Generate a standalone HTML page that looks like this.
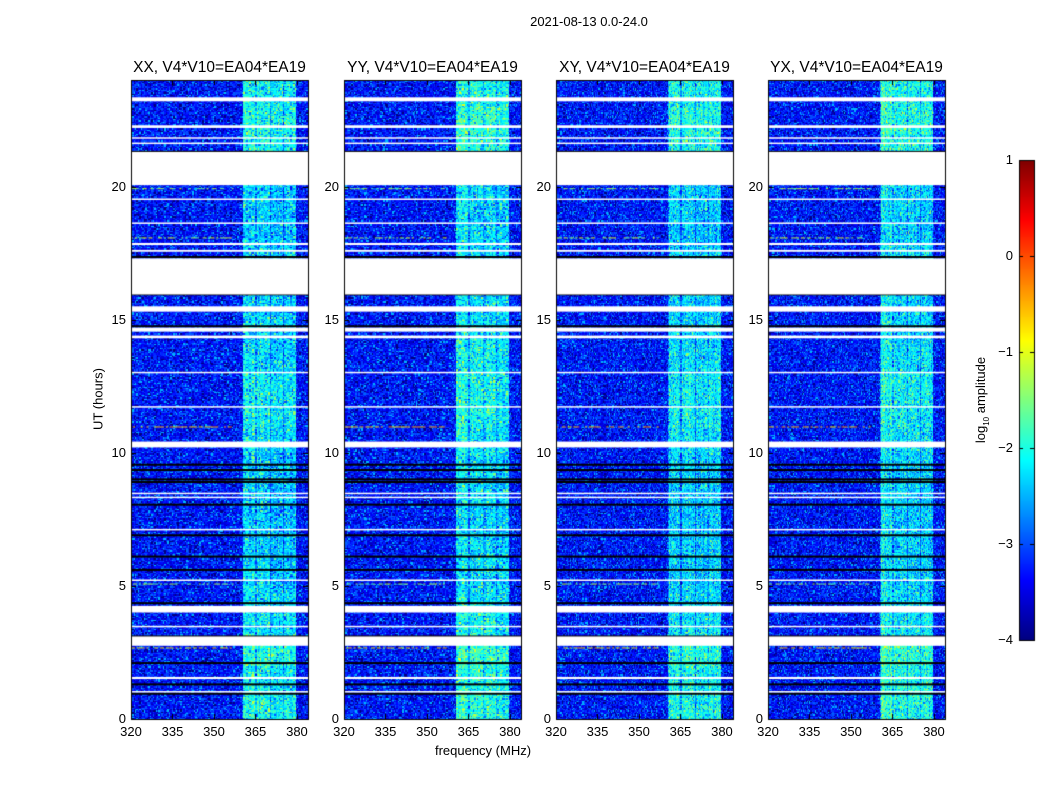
<!DOCTYPE html>
<html><head><meta charset="utf-8">
<style>
body{margin:0;background:#fff;font-family:"Liberation Sans",sans-serif;}
#root{position:relative;width:1050px;height:800px;overflow:hidden;background:#fff}
canvas{position:absolute;left:0;top:0}
.t{position:absolute;font-size:13px;color:#000;white-space:nowrap}
</style></head><body>
<div id="root">
<canvas id="cv" width="1050" height="800"></canvas>
<div id="labels"></div>
</div>
<script>
// ---- data ----
const panelTitles = ["XX, V4*V10=EA04*EA19","YY, V4*V10=EA04*EA19","XY, V4*V10=EA04*EA19","YX, V4*V10=EA04*EA19"];
const xTicks = [320,335,350,365,380];
const yTicks = [0,5,10,15,20];
const cbTicks = [1,0,-1,-2,-3,-4];
// bright RFI sub-bands: centre (MHz), log10 level, width (MHz)
const bandCenters = [363.0,367.9,372.8,377.6];
const bandLevels = [-2.3,-2.35,-2.4,-2.4];
const bandWidths = [4.6,4.4,4.4,4.2];
const gapLevel = -2.9;
const bandStart = 360.5, bandEnd = 379.8;
const backgroundLevel = -3.3;
// per-hour boost of band level (hours 0..23)
const hourBoost = [0.3,0.25,0.4,0.15,0.05,0.0,0.0,-0.05,0,0,0.1,0.2,0.2,0.1,0.05,0,0,0,-0.05,0,0,0.3,0.35,0.25];
// per-panel offsets
const panelBoost = [0,0.1,0.03,0.08];
// flagged (white) time ranges, hours
const whiteRanges = [[20.05,21.3],[16.0,17.3],[15.3,15.5],[14.55,14.7],[14.3,14.4],[10.2,10.42],[4.0,4.25],[2.75,3.1],[23.2,23.35],[22.2,22.3],[21.6,21.65],[21.8,21.85],[19.5,19.55],[18.6,18.65],[17.8,17.88],[17.55,17.62],[13.0,13.04],[11.7,11.75],[8.45,8.5],[8.3,8.35],[7.1,7.14],[5.2,5.24],[3.45,3.5],[1.5,1.58],[1.0,1.05],[15.95,16.0]];
// zero-data (black) rows, hours
const blackRows = [21.3,17.35,15.95,14.75,9.55,9.35,9.0,8.9,8.05,6.9,6.1,5.6,4.35,3.1,2.1,1.3,0.95];
// hot RFI rows [hour, level]
const hotRows = [[10.95,-0.5],[2.65,-0.7],[18.05,-1.2],[5.05,-1.4],[19.9,-1.4]];

// ---- layout ----
const panelX = [131,344,556,768], panelW = 177, pTop = 80, pBot = 719;
const fMin = 320, fMax = 384, tMin = 0, tMax = 24;
function xScale(p,f){return panelX[p]+(f-fMin)/(fMax-fMin)*panelW;}
function yScale(h){return pBot-(h-tMin)/(tMax-tMin)*(pBot-pTop);}
const cbX=1019,cbW=15,cbTop=160,cbBot=640;
function cbScale(v){return cbBot-(v+4)/5*(cbBot-cbTop);}
function jet(t){t=Math.max(0,Math.min(1,t));
 const r=Math.max(0,Math.min(1,1.5-Math.abs(4*t-3))),g=Math.max(0,Math.min(1,1.5-Math.abs(4*t-2))),b=Math.max(0,Math.min(1,1.5-Math.abs(4*t-1)));
 return `rgb(${r*255|0},${g*255|0},${b*255|0})`;}
function hash(a,b,c){let h=(a*374761393+b*668265263+c*2147483647)|0;h=(h^(h>>>13))*1274126177|0;return ((h^(h>>>16))>>>0)/4294967296;}

const cv=document.getElementById('cv'),ctx=cv.getContext('2d');
const nf=177,nt=480;
for(let p=0;p<4;p++){
 for(let i=0;i<nf;i++){
  const f=fMin+(i+0.5)*(fMax-fMin)/nf;
  let bl=-99;
  if(f>bandStart&&f<bandEnd) bl=gapLevel;
  for(let k=0;k<bandCenters.length;k++) if(Math.abs(f-bandCenters[k])<bandWidths[k]/2) bl=bandLevels[k];
  const colVar=(hash(i,7,p)-0.5)*0.3;
  const x0=xScale(p,fMin+i*(fMax-fMin)/nf),x1=xScale(p,fMin+(i+1)*(fMax-fMin)/nf);
  for(let j=0;j<nt;j++){
   const h=tMin+(j+0.5)*(tMax-tMin)/nt;
   let v=backgroundLevel;
   if(bl>-99) v=bl+hourBoost[Math.min(23,Math.floor(h))]+panelBoost[p]+colVar;
   const r=hash(i,j,p);
   v+=(r-0.5)*1.0 + (r>0.93?0.35:0) - (r<0.08?0.3:0);
   const y0=yScale(tMin+(j+1)*(tMax-tMin)/nt),y1=yScale(tMin+j*(tMax-tMin)/nt);
   ctx.fillStyle=jet((v+4)/5);
   ctx.fillRect(Math.floor(x0),Math.floor(y0),Math.ceil(x1)-Math.floor(x0),Math.ceil(y1)-Math.floor(y0));
  }
 }
 hotRows.forEach(([h,l])=>{const y=yScale(h);for(let f=fMin;f<357;f+=0.7){if(hash(f*10|0,h*10|0,p)>0.4){ctx.fillStyle=jet((l+(hash(f*10|0,3,p)-0.5)*0.8+4)/5);ctx.fillRect(xScale(p,f),y-1,2,1);}}});
 ctx.fillStyle='#000';
 blackRows.forEach(h=>{ctx.fillRect(xScale(p,fMin),yScale(h)-1,panelW,2);});
 ctx.fillStyle='#fff';
 whiteRanges.forEach(([a,b])=>{const y0=yScale(b),y1=yScale(a);ctx.fillRect(xScale(p,fMin),y0,panelW,Math.max(1.5,y1-y0));});
 // frame & ticks
 ctx.strokeStyle='#000';ctx.lineWidth=1;
 ctx.strokeRect(panelX[p]+0.5,pTop+0.5,panelW,pBot-pTop);
 ctx.beginPath();
 xTicks.forEach(f=>{const x=Math.round(xScale(p,f))+0.5;ctx.moveTo(x,pBot);ctx.lineTo(x,pBot-5);ctx.moveTo(x,pTop);ctx.lineTo(x,pTop+5);});
 yTicks.forEach(h=>{const y=Math.round(yScale(h))+0.5;ctx.moveTo(panelX[p],y);ctx.lineTo(panelX[p]+5,y);ctx.moveTo(panelX[p]+panelW,y);ctx.lineTo(panelX[p]+panelW-5,y);});
 ctx.stroke();
}
// colorbar
for(let y=cbTop;y<cbBot;y++){ctx.fillStyle=jet((cbBot-y)/(cbBot-cbTop));ctx.fillRect(cbX,y,cbW,1);}
ctx.strokeStyle='#000';ctx.strokeRect(cbX+0.5,cbTop+0.5,cbW,cbBot-cbTop);
ctx.beginPath();cbTicks.forEach(v=>{const y=Math.round(cbScale(v))+0.5;ctx.moveTo(cbX,y);ctx.lineTo(cbX+4,y);ctx.moveTo(cbX+cbW,y);ctx.lineTo(cbX+cbW-4,y);});ctx.stroke();

// ---- labels ----
const L=document.getElementById('labels');
function lab(txt,x,y,name,style){const d=document.createElement('div');d.className='t';d.textContent=txt;d.style.left=x+'px';d.style.top=y+'px';if(style)d.style.cssText+=style;


L.appendChild(d);return d;}
lab('2021-08-13 0.0-24.0',589,14,'figure-title','transform:translateX(-50%)');
for(let p=0;p<4;p++){
 lab(panelTitles[p],panelX[p]+panelW/2,59,'panel-title','transform:translateX(-50%);font-size:15.5px');
 xTicks.forEach(f=>lab(String(f),xScale(p,f),724,'x-tick-label','transform:translateX(-50%)'));
 yTicks.forEach(h=>lab(String(h),panelX[p]-5,yScale(h)-8,'y-tick-label','transform:translateX(-100%)'));
}
lab('frequency (MHz)',483,743,'x-axis-title','transform:translateX(-50%)');
lab('UT (hours)',98,399,'y-axis-title','transform:translate(-50%,-50%) rotate(-90deg)');
cbTicks.forEach(v=>lab(v<0?'\u2212'+(-v):String(v),1013,cbScale(v)-8,'colorbar-tick-label','transform:translateX(-100%)'));
const cl=lab('',982,400,'colorbar-title','transform:translate(-50%,-50%) rotate(-90deg)');
cl.innerHTML='log<sub style="font-size:8px">10</sub> amplitude';
</script>
</body></html>
